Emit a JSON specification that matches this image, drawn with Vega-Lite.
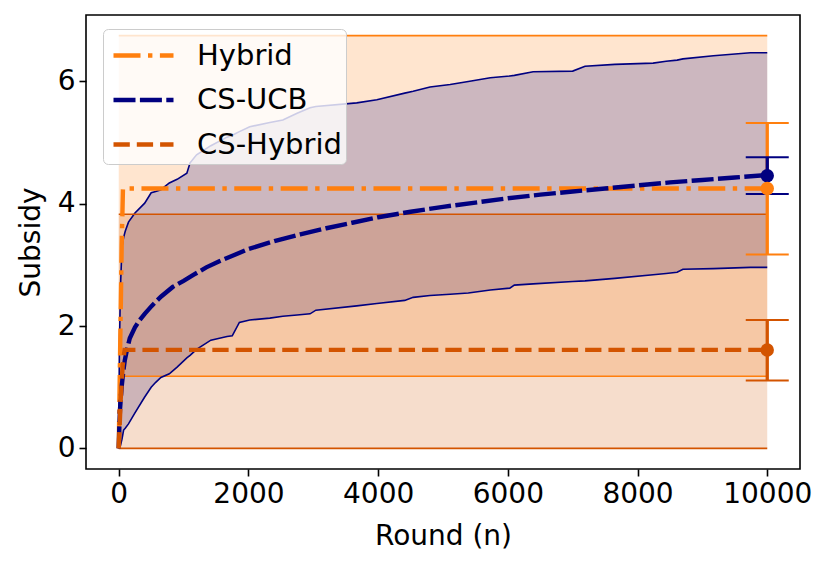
{
  "$schema": "https://vega.github.io/schema/vega-lite/v6.json",
  "width": 714,
  "height": 454,
  "autosize": "none",
  "padding": {"left": 86, "top": 15, "right": 30, "bottom": 97},
  "background": "white",
  "config": {
    "view": {"stroke": "black", "strokeWidth": 1.6},
    "font": "DejaVu Sans",
    "axis": {
      "grid": false,
      "domain": false,
      "tickColor": "black",
      "tickSize": 7,
      "tickWidth": 1.6,
      "labelFont": "DejaVu Sans",
      "labelFontSize": 28,
      "labelColor": "black",
      "titleFont": "DejaVu Sans",
      "titleFontSize": 28,
      "titleFontWeight": "normal",
      "titleColor": "black",
      "labelFlush": false,
      "labelOverlap": false,
      "labelBound": false
    }
  },
  "datasets": {
    "bands": [
      {"method": "Hybrid", "x": 0, "lo": 1.18, "hi": 6.75},
      {"method": "Hybrid", "x": 10000, "lo": 1.18, "hi": 6.75},
      {"method": "CS-UCB", "x": 0, "lo": 0, "hi": 0},
      {"method": "CS-UCB", "x": 10, "lo": 0.02, "hi": 1.6},
      {"method": "CS-UCB", "x": 25, "lo": 0.04, "hi": 2.6},
      {"method": "CS-UCB", "x": 50, "lo": 0.15, "hi": 3.3},
      {"method": "CS-UCB", "x": 75, "lo": 0.3, "hi": 3.45},
      {"method": "CS-UCB", "x": 100, "lo": 0.33, "hi": 3.55},
      {"method": "CS-UCB", "x": 150, "lo": 0.4, "hi": 3.7},
      {"method": "CS-UCB", "x": 250, "lo": 0.58, "hi": 3.85},
      {"method": "CS-UCB", "x": 400, "lo": 0.84, "hi": 4.01},
      {"method": "CS-UCB", "x": 500, "lo": 1.0, "hi": 4.18},
      {"method": "CS-UCB", "x": 570, "lo": 1.08, "hi": 4.2},
      {"method": "CS-UCB", "x": 650, "lo": 1.16, "hi": 4.23},
      {"method": "CS-UCB", "x": 780, "lo": 1.22, "hi": 4.34},
      {"method": "CS-UCB", "x": 900, "lo": 1.33, "hi": 4.4},
      {"method": "CS-UCB", "x": 1050, "lo": 1.48, "hi": 4.5},
      {"method": "CS-UCB", "x": 1100, "lo": 1.52, "hi": 4.67},
      {"method": "CS-UCB", "x": 1200, "lo": 1.62, "hi": 4.8},
      {"method": "CS-UCB", "x": 1420, "lo": 1.77, "hi": 4.95},
      {"method": "CS-UCB", "x": 1670, "lo": 1.83, "hi": 5.09},
      {"method": "CS-UCB", "x": 1750, "lo": 1.84, "hi": 5.12},
      {"method": "CS-UCB", "x": 1860, "lo": 2.06, "hi": 5.18},
      {"method": "CS-UCB", "x": 2020, "lo": 2.1, "hi": 5.26},
      {"method": "CS-UCB", "x": 2330, "lo": 2.13, "hi": 5.33},
      {"method": "CS-UCB", "x": 2530, "lo": 2.16, "hi": 5.37},
      {"method": "CS-UCB", "x": 2750, "lo": 2.18, "hi": 5.48},
      {"method": "CS-UCB", "x": 2950, "lo": 2.2, "hi": 5.57},
      {"method": "CS-UCB", "x": 3040, "lo": 2.26, "hi": 5.59},
      {"method": "CS-UCB", "x": 3670, "lo": 2.33, "hi": 5.65},
      {"method": "CS-UCB", "x": 3980, "lo": 2.37, "hi": 5.7},
      {"method": "CS-UCB", "x": 4410, "lo": 2.42, "hi": 5.81},
      {"method": "CS-UCB", "x": 4540, "lo": 2.47, "hi": 5.84},
      {"method": "CS-UCB", "x": 4800, "lo": 2.5, "hi": 5.91},
      {"method": "CS-UCB", "x": 5110, "lo": 2.52, "hi": 5.95},
      {"method": "CS-UCB", "x": 5390, "lo": 2.54, "hi": 6.0},
      {"method": "CS-UCB", "x": 5730, "lo": 2.59, "hi": 6.06},
      {"method": "CS-UCB", "x": 6030, "lo": 2.62, "hi": 6.09},
      {"method": "CS-UCB", "x": 6100, "lo": 2.67, "hi": 6.1},
      {"method": "CS-UCB", "x": 6390, "lo": 2.69, "hi": 6.16},
      {"method": "CS-UCB", "x": 7000, "lo": 2.73, "hi": 6.17},
      {"method": "CS-UCB", "x": 7190, "lo": 2.74, "hi": 6.25},
      {"method": "CS-UCB", "x": 7650, "lo": 2.78, "hi": 6.28},
      {"method": "CS-UCB", "x": 8240, "lo": 2.84, "hi": 6.3},
      {"method": "CS-UCB", "x": 8440, "lo": 2.86, "hi": 6.33},
      {"method": "CS-UCB", "x": 8610, "lo": 2.88, "hi": 6.35},
      {"method": "CS-UCB", "x": 8700, "lo": 2.93, "hi": 6.37},
      {"method": "CS-UCB", "x": 9170, "lo": 2.94, "hi": 6.42},
      {"method": "CS-UCB", "x": 9740, "lo": 2.96, "hi": 6.47},
      {"method": "CS-UCB", "x": 10000, "lo": 2.96, "hi": 6.47},
      {"method": "CS-Hybrid", "x": 0, "lo": 0, "hi": 3.83},
      {"method": "CS-Hybrid", "x": 10000, "lo": 0, "hi": 3.83}
    ],
    "means": [
      {"method": "Hybrid", "x": 0, "y": 0},
      {"method": "Hybrid", "x": 20, "y": 1.5},
      {"method": "Hybrid", "x": 45, "y": 3.3},
      {"method": "Hybrid", "x": 65, "y": 4.25},
      {"method": "Hybrid", "x": 10000, "y": 4.25},
      {"method": "CS-UCB", "x": 0, "y": 0},
      {"method": "CS-UCB", "x": 10, "y": 0.4},
      {"method": "CS-UCB", "x": 20, "y": 0.65},
      {"method": "CS-UCB", "x": 46, "y": 1.02},
      {"method": "CS-UCB", "x": 70, "y": 1.26},
      {"method": "CS-UCB", "x": 93, "y": 1.44},
      {"method": "CS-UCB", "x": 130, "y": 1.63},
      {"method": "CS-UCB", "x": 170, "y": 1.8},
      {"method": "CS-UCB", "x": 250, "y": 1.98},
      {"method": "CS-UCB", "x": 324, "y": 2.1},
      {"method": "CS-UCB", "x": 400, "y": 2.2},
      {"method": "CS-UCB", "x": 509, "y": 2.33},
      {"method": "CS-UCB", "x": 650, "y": 2.48},
      {"method": "CS-UCB", "x": 833, "y": 2.64},
      {"method": "CS-UCB", "x": 1000, "y": 2.74},
      {"method": "CS-UCB", "x": 1157, "y": 2.84},
      {"method": "CS-UCB", "x": 1350, "y": 2.96},
      {"method": "CS-UCB", "x": 1551, "y": 3.06},
      {"method": "CS-UCB", "x": 1800, "y": 3.17},
      {"method": "CS-UCB", "x": 2000, "y": 3.26},
      {"method": "CS-UCB", "x": 2400, "y": 3.39},
      {"method": "CS-UCB", "x": 2800, "y": 3.5},
      {"method": "CS-UCB", "x": 3200, "y": 3.6},
      {"method": "CS-UCB", "x": 3600, "y": 3.69},
      {"method": "CS-UCB", "x": 4000, "y": 3.78},
      {"method": "CS-UCB", "x": 4500, "y": 3.87},
      {"method": "CS-UCB", "x": 5000, "y": 3.95},
      {"method": "CS-UCB", "x": 5500, "y": 4.02},
      {"method": "CS-UCB", "x": 6000, "y": 4.09},
      {"method": "CS-UCB", "x": 6500, "y": 4.15},
      {"method": "CS-UCB", "x": 7000, "y": 4.2},
      {"method": "CS-UCB", "x": 7500, "y": 4.25},
      {"method": "CS-UCB", "x": 8000, "y": 4.3},
      {"method": "CS-UCB", "x": 8500, "y": 4.35},
      {"method": "CS-UCB", "x": 9000, "y": 4.39},
      {"method": "CS-UCB", "x": 9500, "y": 4.43},
      {"method": "CS-UCB", "x": 10000, "y": 4.47},
      {"method": "CS-Hybrid", "x": 0, "y": 0},
      {"method": "CS-Hybrid", "x": 30, "y": 0.8},
      {"method": "CS-Hybrid", "x": 60, "y": 1.35},
      {"method": "CS-Hybrid", "x": 90, "y": 1.61},
      {"method": "CS-Hybrid", "x": 10000, "y": 1.61}
    ],
    "errs": [
      {"method": "Hybrid", "x": 10000, "y": 4.25, "lo": 3.17, "hi": 5.32},
      {"method": "CS-UCB", "x": 10000, "y": 4.46, "lo": 4.16, "hi": 4.76},
      {"method": "CS-Hybrid", "x": 10000, "y": 1.61, "lo": 1.11, "hi": 2.1}
    ]
  },
  "layer": [
    {
      "data": {"name": "bands"},
      "mark": {"type": "area", "fillOpacity": 0.2},
      "encoding": {
        "x": {"field": "x", "type": "quantitative", "scale": {"domain": [-505, 10505], "nice": false, "zero": false},
              "axis": {"values": [0, 2000, 4000, 6000, 8000, 10000], "format": "d", "title": "Round (n)", "labelPadding": 4, "titlePadding": 14}},
        "y": {"field": "lo", "type": "quantitative", "scale": {"domain": [-0.3375, 7.0875], "nice": false, "zero": false},
              "axis": {"values": [0, 2, 4, 6], "format": "d", "title": "Subsidy", "labelPadding": 4, "titlePadding": 12}},
        "y2": {"field": "hi"},
        "fill": {"field": "method", "type": "nominal", "scale": {"domain": ["CS-Hybrid", "CS-UCB", "Hybrid"], "range": ["#d35400", "#000080", "#ff7f0e"]}, "legend": null}
      }
    },
    {
      "data": {"name": "bands"},
      "mark": {"type": "line", "strokeWidth": 1.6},
      "encoding": {
        "x": {"field": "x", "type": "quantitative"},
        "y": {"field": "lo", "type": "quantitative"},
        "stroke": {"field": "method", "type": "nominal", "scale": {"domain": ["CS-Hybrid", "CS-UCB", "Hybrid"], "range": ["#d35400", "#000080", "#ff7f0e"]}, "legend": null}
      }
    },
    {
      "data": {"name": "bands"},
      "mark": {"type": "line", "strokeWidth": 1.6},
      "encoding": {
        "x": {"field": "x", "type": "quantitative"},
        "y": {"field": "hi", "type": "quantitative"},
        "stroke": {"field": "method", "type": "nominal", "scale": {"domain": ["CS-Hybrid", "CS-UCB", "Hybrid"], "range": ["#d35400", "#000080", "#ff7f0e"]}, "legend": null}
      }
    },
    {
      "data": {"name": "means"},
      "mark": {"type": "line", "strokeWidth": 4.4},
      "encoding": {
        "x": {"field": "x", "type": "quantitative"},
        "y": {"field": "y", "type": "quantitative"},
        "color": {"field": "method", "type": "nominal",
                  "scale": {"domain": ["Hybrid", "CS-UCB", "CS-Hybrid"], "range": ["#ff7f0e", "#000080", "#d35400"]},
                  "legend": {
                    "title": null,
                    "orient": "none",
                    "legendX": 17,
                    "legendY": 14,
                    "symbolType": "M-1.5,0H1.5",
                    "symbolSize": 1600,
                    "symbolStrokeWidth": 4.4,
                    "symbolOpacity": 1,
                    "symbolOffset": 14,
                    "labelFont": "DejaVu Sans",
                    "labelFontSize": 29,
                    "labelColor": "black",
                    "labelOffset": 31,
                    "fillColor": "rgba(255,255,255,0.8)",
                    "strokeColor": "#cccccc",
                    "cornerRadius": 5,
                    "padding": 4,
                    "rowPadding": 6.5
                  }},
        "strokeDash": {"field": "method", "type": "nominal",
                       "scale": {"domain": ["Hybrid", "CS-UCB", "CS-Hybrid"], "range": [[27, 7.5, 4.4, 7.5], [22, 4.4], [16.3, 7]]},
                       "legend": {
                    "title": null,
                    "orient": "none",
                    "legendX": 17,
                    "legendY": 14,
                    "symbolType": "M-1.5,0H1.5",
                    "symbolSize": 1600,
                    "symbolStrokeWidth": 4.4,
                    "symbolOpacity": 1,
                    "symbolOffset": 14,
                    "labelFont": "DejaVu Sans",
                    "labelFontSize": 29,
                    "labelColor": "black",
                    "labelOffset": 31,
                    "fillColor": "rgba(255,255,255,0.8)",
                    "strokeColor": "#cccccc",
                    "cornerRadius": 5,
                    "padding": 4,
                    "rowPadding": 6.5
                  }}
      }
    },
    {
      "data": {"name": "errs"},
      "mark": {"type": "rule", "strokeWidth": 3.3},
      "encoding": {
        "x": {"field": "x", "type": "quantitative"},
        "y": {"field": "lo", "type": "quantitative"},
        "y2": {"field": "hi"},
        "stroke": {"field": "method", "type": "nominal", "scale": {"domain": ["CS-Hybrid", "CS-UCB", "Hybrid"], "range": ["#d35400", "#000080", "#ff7f0e"]}, "legend": null}
      }
    },
    {
      "data": {"name": "errs"},
      "mark": {"type": "tick", "orient": "horizontal", "size": 43, "thickness": 2, "opacity": 1},
      "encoding": {
        "x": {"field": "x", "type": "quantitative"},
        "y": {"field": "lo", "type": "quantitative"},
        "fill": {"field": "method", "type": "nominal", "scale": {"domain": ["CS-Hybrid", "CS-UCB", "Hybrid"], "range": ["#d35400", "#000080", "#ff7f0e"]}, "legend": null}
      }
    },
    {
      "data": {"name": "errs"},
      "mark": {"type": "tick", "orient": "horizontal", "size": 43, "thickness": 2, "opacity": 1},
      "encoding": {
        "x": {"field": "x", "type": "quantitative"},
        "y": {"field": "hi", "type": "quantitative"},
        "fill": {"field": "method", "type": "nominal", "scale": {"domain": ["CS-Hybrid", "CS-UCB", "Hybrid"], "range": ["#d35400", "#000080", "#ff7f0e"]}, "legend": null}
      }
    },
    {
      "data": {"name": "errs"},
      "mark": {"type": "point", "filled": true, "shape": "circle", "size": 180, "opacity": 1, "strokeWidth": 0},
      "encoding": {
        "x": {"field": "x", "type": "quantitative"},
        "y": {"field": "y", "type": "quantitative"},
        "fill": {"field": "method", "type": "nominal", "scale": {"domain": ["CS-Hybrid", "CS-UCB", "Hybrid"], "range": ["#d35400", "#000080", "#ff7f0e"]}, "legend": null},
        "order": {"field": "y", "sort": "descending"}
      }
    }
  ]
}
